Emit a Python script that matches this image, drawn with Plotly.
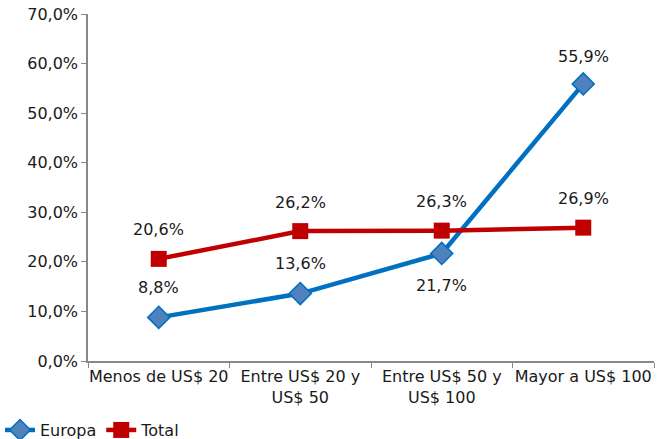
import plotly.graph_objects as go

categories = ["Menos de US$ 20", "Entre US$ 20 y<br>US$ 50", "Entre US$ 50 y<br>US$ 100", "Mayor a US$ 100"]
europa = [8.8, 13.6, 21.7, 55.9]
total = [20.6, 26.2, 26.3, 26.9]
y_ticks = [0, 10, 20, 30, 40, 50, 60, 70]

# label offsets in px (positive = above the point)
europa_shift = [30, 30, -32, 27]
total_shift = [29, 29, 29, 29]

font = "DejaVu Sans, Verdana, sans-serif"
fsize = 16

fig = go.Figure()

fig.add_trace(go.Scatter(
    x=categories, y=europa, name="Europa",
    mode="lines+markers",
    line=dict(color="#0070C0", width=4.5),
    marker=dict(symbol="diamond", size=17, color="#4F81BD", line=dict(color="#0070C0", width=1.5)),
))

fig.add_trace(go.Scatter(
    x=categories, y=total, name="Total",
    mode="lines+markers",
    line=dict(color="#C00000", width=4.5),
    marker=dict(symbol="square", size=16, color="#C00000"),
))

for series, shifts in [(europa, europa_shift), (total, total_shift)]:
    for c, v, s in zip(categories, series, shifts):
        fig.add_annotation(
            x=c, y=v, text=f"{v:.1f}%".replace(".", ","),
            showarrow=False, yshift=s,
            font=dict(family=font, size=fsize, color="#1a1a1a"),
        )

fig.update_layout(
    width=667, height=439,
    margin=dict(l=88, r=13, t=14, b=78, autoexpand=False),
    paper_bgcolor="white", plot_bgcolor="white",
    font=dict(family=font, size=fsize, color="#222222"),
    showlegend=True,
    legend=dict(orientation="h", xref="container", yref="paper",
                x=-0.008, xanchor="left", y=-0.15, yanchor="top",
                font=dict(family=font, size=fsize, color="#1a1a1a"),
                itemwidth=30, tracegroupgap=0, bgcolor="rgba(0,0,0,0)"),
)

fig.update_xaxes(
    type="category", range=[-0.5, 3.5], automargin=False, tickangle=0,
    showline=True, linecolor="#888888", linewidth=1.5,
    ticks="outside", tickson="boundaries", ticklen=5, tickcolor="#888888",
    showgrid=False, tickfont=dict(family=font, size=fsize, color="#1a1a1a"),
)

fig.update_yaxes(
    range=[0, 70], tickvals=y_ticks,
    ticktext=[f"{t:.1f}%".replace(".", ",") for t in y_ticks],
    automargin=False, ticklabeloverflow="allow",
    showline=True, linecolor="#888888", linewidth=1.5,
    ticks="outside", ticklen=5, tickcolor="#888888",
    showgrid=False, zeroline=False, tickfont=dict(family=font, size=fsize, color="#1a1a1a"),
)

# drop the browser's default body margin so the figure sits at the page corner
fig.write_html("out.html", config={"displayModeBar": False},
               post_script="document.body.style.margin = '0';")
